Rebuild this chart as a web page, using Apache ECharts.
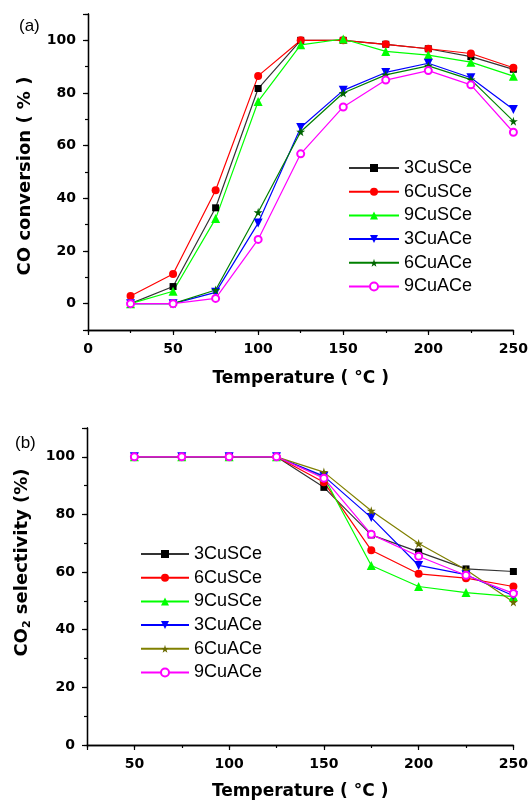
<!DOCTYPE html>
<html>
<head>
    <meta charset="utf-8">
    <title>CO conversion / CO2 selectivity</title>
    <script src="https://cdnjs.cloudflare.com/ajax/libs/echarts/6.0.0/echarts.min.js"></script>
    <style>
        html, body { margin: 0; padding: 0; background: #fff; }
        #chartA { width: 531px; height: 400px; }
        #chartB { width: 531px; height: 405px; }
    </style>
</head>
<body>
    <div id="chartA"></div>
    <div id="chartB"></div>
    <script>
        // (a) CO conversion
        const tempA = [25, 50, 75, 100, 125, 150, 175, 200, 225, 250];
        const conv3CuSCe = [0, 6.5, 36.4, 81.7, 100, 100, 98.5, 96.8, 93.8, 89];
        const conv6CuSCe = [2.9, 11.3, 43.1, 86.5, 100, 100, 98.5, 96.8, 95, 89.6];
        const conv9CuSCe = [0, 4.7, 32.3, 76.8, 98.3, 100.5, 95.8, 94.4, 91.7, 86.4];
        const conv3CuACe = [0, 0, 4.3, 30.6, 66.9, 81, 87.8, 91.3, 85.8, 73.7];
        const conv6CuACe = [0, 0, 5.2, 34.7, 65.3, 80, 86.9, 90.3, 85.1, 69.3];
        const conv9CuACe = [0, 0, 2.0, 24.4, 56.9, 74.7, 84.9, 88.5, 83.1, 65.1];

        // (b) CO2 selectivity
        const tempB = [50, 75, 100, 125, 150, 175, 200, 225, 250];
        const sel3CuSCe = [100, 100, 100, 100, 89.4, 72.9, 67, 61.1, 60.2];
        const sel6CuSCe = [100, 100, 100, 100, 91.2, 67.6, 59.4, 57.9, 55];
        const sel9CuSCe = [100, 100, 100, 100, 93, 62.3, 55, 52.9, 51.5];
        const sel3CuACe = [100, 100, 100, 100, 93.3, 78.9, 62.3, 59.1, 51.8];
        const sel6CuACe = [100, 100, 100, 100, 94.7, 81.3, 69.9, 60.8, 49.6];
        const sel9CuACe = [100, 100, 100, 100, 92.6, 73.1, 65.5, 58.9, 52.6];

        const names = ['3CuSCe', '6CuSCe', '9CuSCe', '3CuACe', '6CuACe', '9CuACe'];

        const downTri = 'path://M0,0L10,0L5,8.66Z';
        const star = 'path://M50,0L61,35L98,35L68,57L79,91L50,70L21,91L32,57L2,35L39,35Z';

        const markers = [
            { symbol: 'rect', size: 7 },
            { symbol: 'circle', size: 8 },
            { symbol: 'triangle', size: 9 },
            { symbol: downTri, size: 9 },
            { symbol: star, size: 9 },
            { symbol: 'emptyCircle', size: 7 }
        ];
        const lineColorsA = ['#333333', '#ff0000', '#00ff00', '#0000ff', '#008000', '#ff00ff'];
        const dotColorsA = ['#000000', '#ff0000', '#00ff00', '#0000ff', '#006400', '#ff00ff'];
        const lineColorsB = ['#333333', '#ff0000', '#00ff00', '#0000ff', '#808000', '#ff00ff'];
        const dotColorsB = ['#000000', '#ff0000', '#00ff00', '#0000ff', '#6b6b00', '#ff00ff'];

        const boldFont = 'DejaVu Sans';
        const axisBlack = { onZero: false, lineStyle: { color: '#000', width: 1.3 } };

        function makeSeries(xs, ys, lineColors, dotColors) {
            return ys.map((arr, i) => ({
                name: names[i],
                type: 'line',
                data: xs.map((t, j) => [t, arr[j]]),
                symbol: markers[i].symbol,
                symbolSize: markers[i].size,
                itemStyle: i === 5
                    ? { color: dotColors[i], borderWidth: 1, borderColor: dotColors[i] }
                    : { color: dotColors[i], borderWidth: 0 },
                lineStyle: { color: lineColors[i], width: 1.2 },
                emphasis: { disabled: true },
                animation: false
            }));
        }

        function labelAxis(extra) {
            return Object.assign({
                type: 'value',
                gridIndex: 0,
                axisLine: axisBlack,
                axisTick: { show: true, length: 5, lineStyle: { color: '#000', width: 1.2 } },
                splitLine: { show: false },
                axisLabel: { color: '#000', fontFamily: boldFont, fontWeight: 'bold', fontSize: 14, margin: 12 },
                nameTextStyle: { color: '#000', fontFamily: boldFont, fontWeight: 'bold', fontSize: 17 }
            }, extra);
        }

        function minorAxis(extra) {
            return Object.assign({
                type: 'value',
                gridIndex: 0,
                axisLine: axisBlack,
                axisTick: { show: true, length: 3, lineStyle: { color: '#000', width: 1.2 } },
                splitLine: { show: false },
                axisLabel: { show: false }
            }, extra);
        }

        function legendFor(left, top, itemWidth) {
            return {
                orient: 'vertical',
                left: left,
                top: top,
                itemWidth: itemWidth,
                itemHeight: 10,
                itemGap: 5.7,
                selectedMode: false,
                textStyle: { color: '#000', fontFamily: 'Liberation Sans', fontSize: 18, lineHeight: 18 },
                data: names.map(n => n === '9CuACe' ? { name: n, itemStyle: { borderWidth: 1 } } : n)
            };
        }

        const chartA = echarts.init(document.getElementById('chartA'));
        chartA.setOption({
            animation: false,
            title: { text: '(a)', left: 14, top: 13, textStyle: { fontFamily: 'Liberation Sans', fontWeight: 'normal', fontSize: 17, color: '#000' } },
            legend: legendFor(343, 154, 50),
            grid: { left: 88, right: 14, top: 14, height: 316 },
            xAxis: [
                labelAxis({
                    position: 'bottom',
                    min: 0, max: 250, interval: 50,
                    name: 'Temperature ( \u00B0C )', nameLocation: 'middle', nameGap: 40
                }),
                minorAxis({ position: 'bottom', min: 0, max: 250, interval: 25 })
            ],
            yAxis: [
                labelAxis({
                    position: 'left',
                    min: -10, max: 110, splitNumber: 6,
                    axisLabel: {
                        color: '#000', fontFamily: boldFont, fontWeight: 'bold', fontSize: 14, margin: 12,
                        formatter: v => (v >= 0 && v <= 100 && v % 20 === 0) ? String(v) : ''
                    },
                    name: 'CO conversion ( % )', nameLocation: 'middle', nameGap: 54,
                    nameTextStyle: { color: '#000', fontFamily: boldFont, fontWeight: 'bold', fontSize: 18, padding: [0, 8, 0, 0] }
                }),
                minorAxis({ position: 'left', min: -10, max: 110, interval: 10 })
            ],
            series: makeSeries(tempA, [conv3CuSCe, conv6CuSCe, conv9CuSCe, conv3CuACe, conv6CuACe, conv9CuACe], lineColorsA, dotColorsA)
        });

        const chartB = echarts.init(document.getElementById('chartB'));
        chartB.setOption({
            animation: false,
            title: { text: '(b)', left: 10, top: 30, textStyle: { fontFamily: 'Liberation Sans', fontWeight: 'normal', fontSize: 17, color: '#000' } },
            legend: legendFor(135, 140, 48),
            grid: { left: 87, right: 15, top: 28, height: 317 },
            xAxis: [
                labelAxis({
                    position: 'bottom',
                    min: 25, max: 250, splitNumber: 5,
                    axisLabel: {
                        color: '#000', fontFamily: boldFont, fontWeight: 'bold', fontSize: 14, margin: 12,
                        formatter: v => (v % 50 === 0) ? String(v) : ''
                    },
                    name: 'Temperature ( \u00B0C )', nameLocation: 'middle', nameGap: 38
                }),
                minorAxis({ position: 'bottom', min: 25, max: 250, interval: 25 })
            ],
            yAxis: [
                labelAxis({
                    position: 'left',
                    min: 0, max: 110, interval: 20,
                    axisLabel: {
                        color: '#000', fontFamily: boldFont, fontWeight: 'bold', fontSize: 14, margin: 12,
                        formatter: v => (v <= 100) ? String(v) : ''
                    },
                    name: '{t|CO}{s|2}{t| selectivity (%)}', nameLocation: 'middle', nameGap: 54,
                    nameTextStyle: {
                        color: '#000', padding: [0, 0, 0, 48],
                        rich: {
                            t: { fontFamily: boldFont, fontWeight: 'bold', fontSize: 18, lineHeight: 22, color: '#000' },
                            s: { fontFamily: boldFont, fontWeight: 'bold', fontSize: 11, lineHeight: 11, verticalAlign: 'bottom', color: '#000' }
                        }
                    }
                }),
                minorAxis({ position: 'left', min: 0, max: 110, interval: 10 })
            ],
            series: makeSeries(tempB, [sel3CuSCe, sel6CuSCe, sel9CuSCe, sel3CuACe, sel6CuACe, sel9CuACe], lineColorsB, dotColorsB)
        });
    </script>
</body>
</html>
